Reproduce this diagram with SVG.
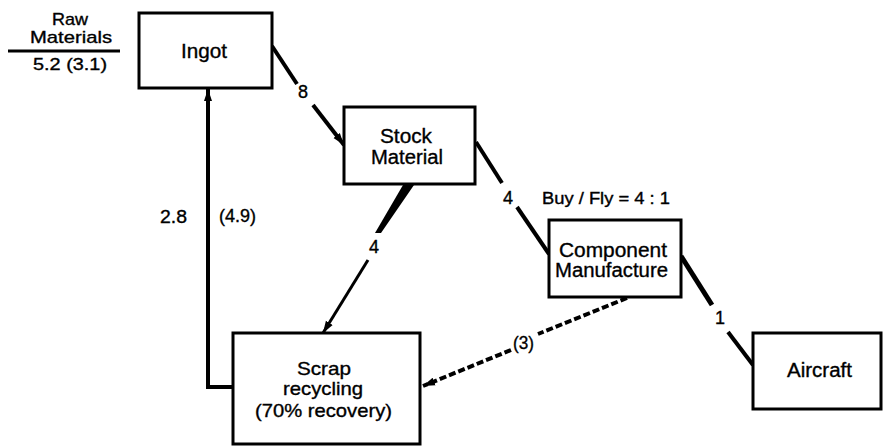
<svg xmlns="http://www.w3.org/2000/svg" width="884" height="446" viewBox="0 0 884 446">
<style>
  .box { fill: #fff; stroke: #000; stroke-width: 3; }
  .t { font-family: "Liberation Sans", Arial, sans-serif; font-size: 20px; fill: #000; stroke: #000; stroke-width: 0.35; }
  .s { font-size: 17px; }
  .n { font-size: 18px; }
  .sc { font-size: 18.5px; }
  .ln { fill: none; stroke: #000; stroke-linecap: butt; }
  .dash { fill: none; stroke: #000; stroke-width: 4; stroke-dasharray: 7 3; }
</style>
<defs>
  <marker id="ah" markerUnits="userSpaceOnUse" markerWidth="14" markerHeight="10" refX="12" refY="5" orient="auto">
    <path d="M0,1 L12,5 L0,9 Z" fill="#000"/>
  </marker>
</defs>
<rect width="884" height="446" fill="#fff"/>

<g id="raw-materials">
  <text class="t s" x="52" y="25" textLength="36" lengthAdjust="spacingAndGlyphs">Raw</text>
  <text class="t s" x="30" y="43" textLength="82" lengthAdjust="spacingAndGlyphs">Materials</text>
  <line x1="8" y1="51" x2="120" y2="51" stroke="#000" stroke-width="3"/>
  <text class="t s" x="33" y="70" textLength="74" lengthAdjust="spacingAndGlyphs">5.2 (3.1)</text>
</g>

<g id="connectors">
  <!-- Ingot -> Stock Material -->
  <line class="ln" x1="272" y1="46" x2="297" y2="84" stroke-width="4"/>
  <line class="ln" x1="313" y1="105" x2="344" y2="145" stroke-width="4" marker-end="url(#ah)"/>
  <text class="t n" x="298" y="98">8</text>
  <!-- Stock Material -> Component Manufacture -->
  <line class="ln" x1="476" y1="142" x2="502" y2="183" stroke-width="4"/>
  <line class="ln" x1="517" y1="207" x2="549" y2="254" stroke-width="4"/>
  <text class="t n" x="503" y="204">4</text>
  <!-- Component Manufacture -> Aircraft -->
  <line class="ln" x1="681" y1="256" x2="712" y2="305" stroke-width="5"/>
  <line class="ln" x1="728" y1="332" x2="753" y2="365" stroke-width="4"/>
  <text class="t n" x="715" y="324">1</text>
  <!-- Stock Material -> Scrap recycling -->
  <polygon points="403,185 414,185 381,233 375,233" fill="#000"/>
  <line class="ln" x1="368" y1="260" x2="323" y2="333" stroke-width="3" marker-end="url(#ah)"/>
  <text class="t n" x="369" y="253">4</text>
  <!-- Scrap recycling -> Ingot -->
  <polyline class="ln" points="233,387 208,387 208,89" stroke-width="4" marker-end="url(#ah)"/>
  <text class="t n" x="160" y="223" textLength="27" lengthAdjust="spacingAndGlyphs">2.8</text>
  <text class="t n" x="219" y="222" textLength="37" lengthAdjust="spacingAndGlyphs">(4.9)</text>
  <!-- Component Manufacture -> Scrap recycling (dashed) -->
  <line class="dash" x1="627" y1="298" x2="538" y2="334"/>
  <line class="dash" x1="511" y1="350" x2="423" y2="386" marker-end="url(#ah)"/>
  <text class="t n" x="513" y="349" textLength="21" lengthAdjust="spacingAndGlyphs">(3)</text>
</g>

<g id="ingot">
  <rect class="box" x="139" y="13" width="133" height="75"/>
  <text class="t" x="181" y="58" textLength="46" lengthAdjust="spacingAndGlyphs">Ingot</text>
</g>

<g id="stock-material">
  <rect class="box" x="344" y="107" width="131" height="77"/>
  <text class="t" x="380" y="143" textLength="52" lengthAdjust="spacingAndGlyphs">Stock</text>
  <text class="t" x="371" y="164" textLength="72" lengthAdjust="spacingAndGlyphs">Material</text>
</g>

<g id="buy-fly">
  <text class="t" style="font-size:16px" x="542" y="204" textLength="128" lengthAdjust="spacingAndGlyphs">Buy / Fly = 4 : 1</text>
</g>

<g id="component-manufacture">
  <rect class="box" x="549" y="220" width="132" height="77"/>
  <text class="t" x="559" y="257" textLength="108" lengthAdjust="spacingAndGlyphs">Component</text>
  <text class="t" x="555" y="277" textLength="113" lengthAdjust="spacingAndGlyphs">Manufacture</text>
</g>

<g id="aircraft">
  <rect class="box" x="753" y="333" width="128" height="76"/>
  <text class="t" x="787" y="377" textLength="65" lengthAdjust="spacingAndGlyphs">Aircraft</text>
</g>

<g id="scrap-recycling">
  <rect class="box" x="233" y="333" width="187" height="111"/>
  <text class="t sc" x="297" y="375" textLength="54" lengthAdjust="spacingAndGlyphs">Scrap</text>
  <text class="t sc" x="283" y="395" textLength="80" lengthAdjust="spacingAndGlyphs">recycling</text>
  <text class="t sc" x="255" y="417" textLength="137" lengthAdjust="spacingAndGlyphs">(70% recovery)</text>
</g>
</svg>
